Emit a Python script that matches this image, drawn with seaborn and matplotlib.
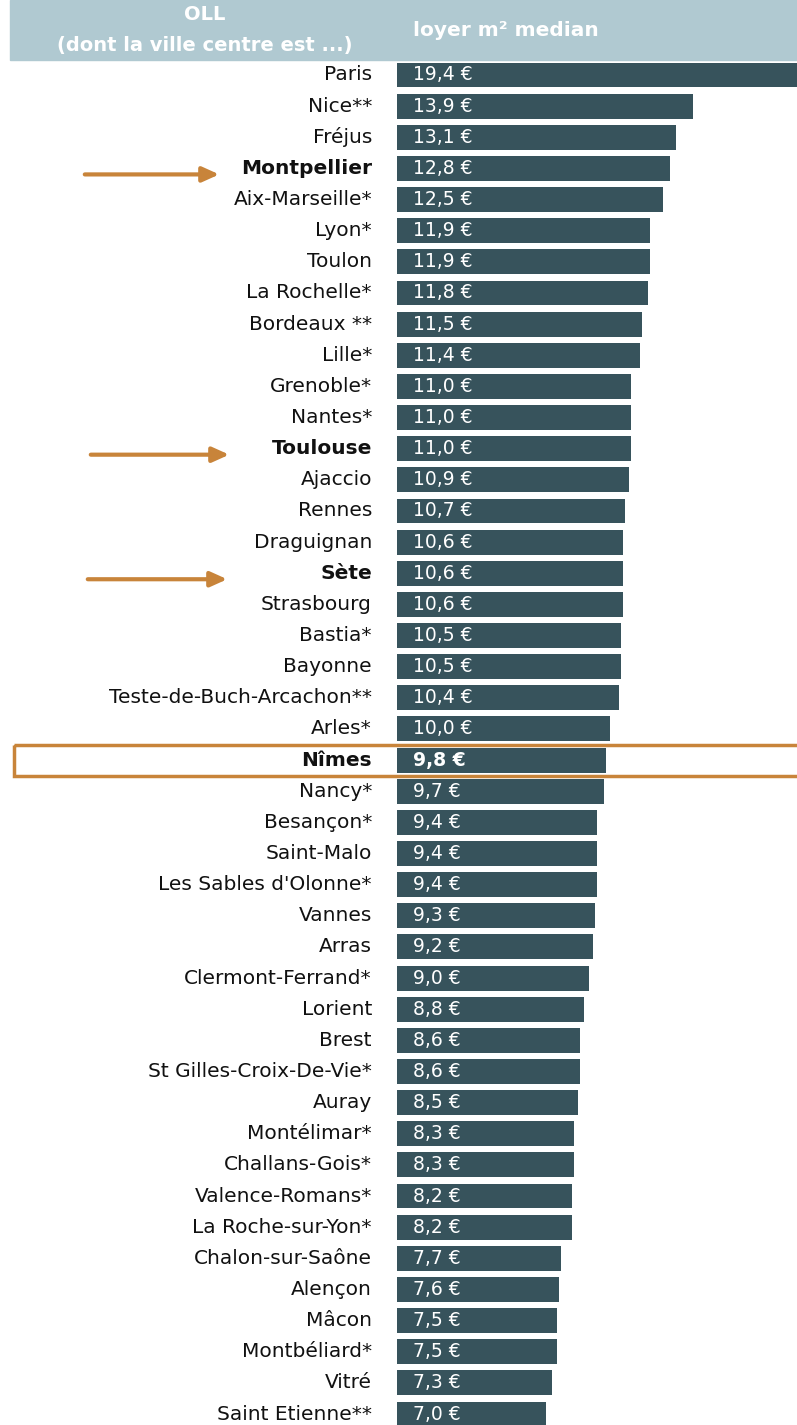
import matplotlib
matplotlib.use('Agg')
import matplotlib.pyplot as plt
from matplotlib.patches import Rectangle
import seaborn as sns
import pandas as pd

villes = ['Paris', 'Nice**', 'Fréjus', 'Montpellier', 'Aix-Marseille*', 'Lyon*', 'Toulon',
          'La Rochelle*', 'Bordeaux **', 'Lille*', 'Grenoble*', 'Nantes*', 'Toulouse',
          'Ajaccio', 'Rennes', 'Draguignan', 'Sète', 'Strasbourg', 'Bastia*', 'Bayonne',
          'Teste-de-Buch-Arcachon**', 'Arles*', 'Nîmes', 'Nancy*', 'Besançon*', 'Saint-Malo',
          "Les Sables d'Olonne*", 'Vannes', 'Arras', 'Clermont-Ferrand*', 'Lorient', 'Brest',
          'St Gilles-Croix-De-Vie*', 'Auray', 'Montélimar*', 'Challans-Gois*',
          'Valence-Romans*', 'La Roche-sur-Yon*', 'Chalon-sur-Saône', 'Alençon', 'Mâcon',
          'Montbéliard*', 'Vitré', 'Saint Etienne**']
loyers = [19.4, 13.9, 13.1, 12.8, 12.5, 11.9, 11.9, 11.8, 11.5, 11.4, 11.0, 11.0, 11.0,
          10.9, 10.7, 10.6, 10.6, 10.6, 10.5, 10.5, 10.4, 10.0, 9.8, 9.7, 9.4, 9.4, 9.4,
          9.3, 9.2, 9.0, 8.8, 8.6, 8.6, 8.5, 8.3, 8.3, 8.2, 8.2, 7.7, 7.6, 7.5, 7.5, 7.3, 7.0]
fleches = ['Montpellier', 'Toulouse', 'Sète']
encadre = 'Nîmes'

df = pd.DataFrame({'ville': villes, 'loyer': loyers})

sns.set_style('white')
plt.rcParams['font.family'] = ['DejaVu Sans']

W, H = 797, 1425
fig = plt.figure(figsize=(W / 100, H / 100), dpi=100)
ax = fig.add_axes([0, 0, 1, 1])

x0, ppu = 397, 21.3      # pixel of zero, pixels per unit
y0, row = 75, 31.14      # pixel of first row, pixels per row

sns.barplot(data=df, x='loyer', y='ville', orient='h', color='#37535c',
            saturation=1, width=0.8, linewidth=0, ax=ax)

ax.set_xlim(-x0 / ppu, (W - x0) / ppu)
ax.set_ylim((H - y0) / row, -y0 / row)
ax.axis('off')

px = lambda p: (p - x0) / ppu
py = lambda p: (p - y0) / row

# header band
ax.add_patch(Rectangle((px(10), py(0)), px(W + 5) - px(10), py(60) - py(0),
                       color='#b0c9d1', zorder=0, clip_on=False))
ax.text(px(205), py(14), 'OLL', ha='center', va='center', color='white',
        fontsize=14, fontweight='bold')
ax.text(px(205), py(45), '(dont la ville centre est ...)', ha='center', va='center',
        color='white', fontsize=14, fontweight='bold')
ax.text(px(413), py(30), 'loyer m² median', ha='left', va='center', color='white',
        fontsize=14.5, fontweight='bold')

for i, (v, l) in enumerate(zip(villes, loyers)):
    gras = v in fleches or v == encadre
    ax.text(px(372), i, v, ha='right', va='center', fontsize=14.5,
            fontweight='bold' if gras else 'normal', color='#111111')
    ax.text(px(413), i, f'{l:.1f} €'.replace('.', ','), ha='left', va='center',
            fontsize=13.5, color='white', fontweight='bold' if v == encadre else 'normal',
            zorder=10)
    if v in fleches:
        xs = {'Montpellier': (82, 222), 'Toulouse': (88, 232), 'Sète': (85, 230)}[v]
        ya = i + 6 / row
        ax.annotate('', xy=(px(xs[1]), ya), xytext=(px(xs[0]), ya),
                    arrowprops=dict(arrowstyle='-|>,head_length=1.0,head_width=0.45',
                                    color='#c8843a', lw=3))
    if v == encadre:
        ax.add_patch(Rectangle((px(14), i - 0.5), px(W + 10) - px(14), 1.0, fill=False,
                               edgecolor='#c8843a', lw=2.5, zorder=5, clip_on=False))

fig.savefig('out.png', dpi=100)
